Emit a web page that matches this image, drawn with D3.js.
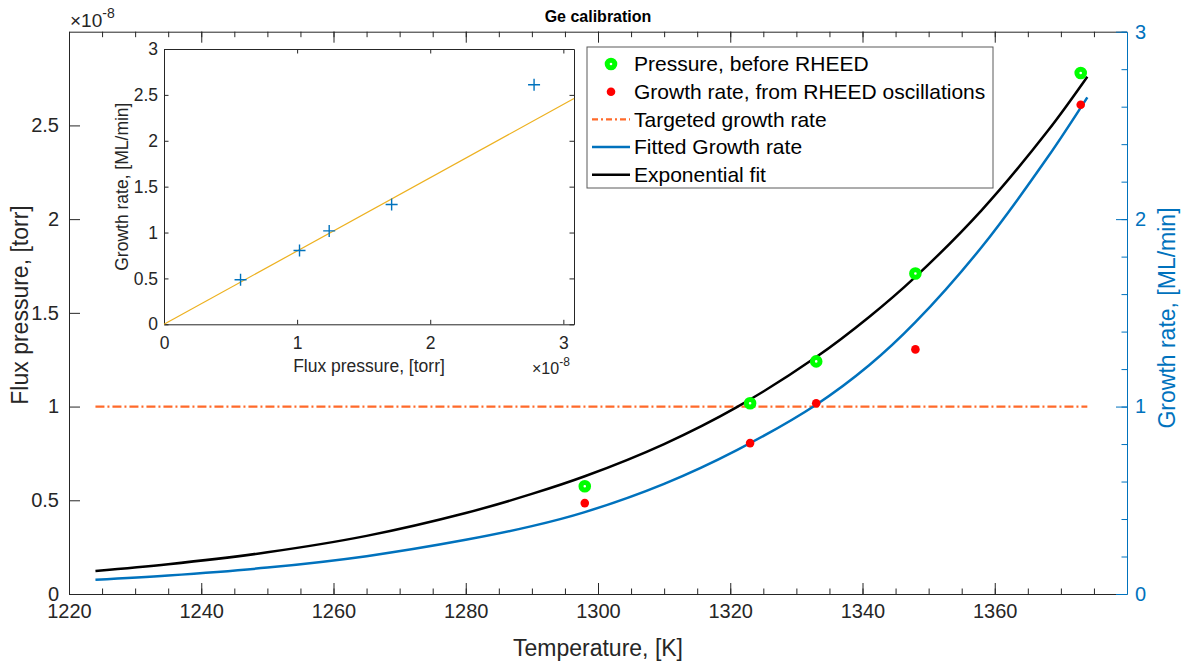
<!DOCTYPE html>
<html>
<head>
<meta charset="utf-8">
<script src="https://cdn.jsdelivr.net/npm/d3@7"></script>
<style>
  html, body { margin: 0; padding: 0; background: #fff; }
  svg { display: block; font-family: "Liberation Sans", Arial, Helvetica, sans-serif; }
</style>
</head>
<body>
<svg width="1181" height="664"></svg>
<script>
// measured points
var temps = [1298, 1323, 1333, 1348, 1373];
var pressure = [0.575, 1.018, 1.241, 1.71, 2.78];   // x 1e-8 torr
var growth = [0.485, 0.805, 1.018, 1.305, 2.61];     // ML/min

// fitted curves
var fitT = [1224, 1235, 1250, 1265, 1280, 1290, 1298, 1310, 1321, 1333, 1341, 1348, 1358, 1368, 1374];
var expFit = [0.123, 0.159, 0.2225, 0.31, 0.432, 0.534, 0.628, 0.80, 0.997, 1.264, 1.478, 1.692, 2.047, 2.47, 2.76];
var rateFit = [0.076, 0.099, 0.141, 0.202, 0.289, 0.362, 0.437, 0.588, 0.768, 1.01, 1.22, 1.45, 1.85, 2.33, 2.65];

var targetT = [1224, 1374];
var targetRate = [1, 1];

// inset linear fit
var insetFitX = [0, 3.08];
var insetFitY = [0, 2.46];

var xTicks = [1220, 1240, 1260, 1280, 1300, 1320, 1340, 1360];
var leftTicks = [0, 0.5, 1, 1.5, 2, 2.5];
var rightTicks = [0, 1, 2, 3];
var insetXTicks = [0, 1, 2, 3];
var insetYTicks = [0, 0.5, 1, 1.5, 2, 2.5, 3];

var legendLabels = ["Pressure, before RHEED", "Growth rate, from RHEED oscillations",
    "Targeted growth rate", "Fitted Growth rate", "Exponential fit"];

var axisColor = "#262626";
var blue = "#0072BD";
var orange = "#FF6A2A";
var green = "#00FF00";
var red = "#FF0000";
var yellow = "#EDB120";

var svg = d3.select("svg");
var L = 69, R = 1127, T = 31.7, B = 594;

var x = d3.scaleLinear().domain([1220, 1380]).range([L, R]);
var yL = d3.scaleLinear().domain([0, 3]).range([B, T]);
var yR = d3.scaleLinear().domain([0, 3]).range([B, T]);

function styleAxis(g, color, size) {
    g.selectAll(".domain").attr("stroke", color);
    g.selectAll(".tick line").attr("stroke", color);
    g.selectAll(".tick text").attr("fill", color).attr("font-size", size)
        .attr("font-family", "Liberation Sans, Arial, sans-serif");
}

function minorRange(a, b, step) {
    return d3.range(Math.round((b - a) / step) + 1).map(function (i) { return +(a + i * step).toFixed(4); });
}

// main axes
var main = svg.append("g");
main.append("rect").attr("x", L).attr("y", T).attr("width", R - L).attr("height", B - T).attr("fill", "#fff");

var gx = main.append("g").attr("transform", "translate(0," + B + ")")
    .call(d3.axisBottom(x).tickValues(xTicks).tickSize(-11).tickSizeOuter(0).tickPadding(10)
        .tickFormat(d3.format("d")));
styleAxis(gx, axisColor, 20);
main.append("g").attr("transform", "translate(0," + B + ")")
    .call(d3.axisBottom(x).tickValues(minorRange(1225, 1375, 5)).tickSize(-5.5).tickSizeOuter(0).tickFormat(""))
    .call(function (g) { g.select(".domain").remove(); styleAxis(g, axisColor, 0); });

var gt = main.append("g").attr("transform", "translate(0," + T + ")")
    .call(d3.axisTop(x).tickValues(xTicks).tickSize(-11).tickSizeOuter(0).tickFormat(""));
styleAxis(gt, axisColor, 0);
main.append("g").attr("transform", "translate(0," + T + ")")
    .call(d3.axisTop(x).tickValues(minorRange(1225, 1375, 5)).tickSize(-5.5).tickSizeOuter(0).tickFormat(""))
    .call(function (g) { g.select(".domain").remove(); styleAxis(g, axisColor, 0); });

var gl = main.append("g").attr("transform", "translate(" + L + ",0)")
    .call(d3.axisLeft(yL).tickValues(leftTicks).tickSize(-11).tickSizeOuter(0).tickPadding(10)
        .tickFormat(function (d) { return String(d); }));
styleAxis(gl, axisColor, 20);

var gr = main.append("g").attr("transform", "translate(" + R + ",0)")
    .call(d3.axisRight(yR).tickValues(rightTicks).tickSize(-11).tickSizeOuter(0).tickPadding(8)
        .tickFormat(function (d) { return String(d); }));
styleAxis(gr, blue, 20);
main.append("g").attr("transform", "translate(" + R + ",0)")
    .call(d3.axisRight(yR).tickValues(minorRange(0, 3, 0.2)).tickSize(-5.5).tickSizeOuter(0).tickFormat(""))
    .call(function (g) { g.select(".domain").remove(); styleAxis(g, blue, 0); });

// exponent label
var expo = main.append("text").attr("x", 70).attr("y", 27).attr("font-size", 19).attr("fill", axisColor);
expo.append("tspan").text("\u00d710");
expo.append("tspan").attr("dy", -9).attr("font-size", 14).text("-8");

// titles
main.append("text").attr("x", (L + R) / 2).attr("y", 22).attr("text-anchor", "middle")
    .attr("font-size", 16).attr("font-weight", "bold").attr("fill", "#000").text("Ge calibration");
main.append("text").attr("x", (L + R) / 2).attr("y", 656).attr("text-anchor", "middle")
    .attr("font-size", 23).attr("fill", axisColor).text("Temperature, [K]");
main.append("text").attr("transform", "translate(28,305) rotate(-90)").attr("text-anchor", "middle")
    .attr("font-size", 23).attr("fill", axisColor).text("Flux pressure, [torr]");
main.append("text").attr("transform", "translate(1175,318) rotate(-90)").attr("text-anchor", "middle")
    .attr("font-size", 23).attr("fill", blue).text("Growth rate, [ML/min]");

// lines
var targetLine = d3.line().x(function (d, i) { return x(targetT[i]); }).y(function (d) { return yR(d); });
main.append("path").datum(targetRate).attr("d", targetLine).attr("fill", "none")
    .attr("stroke", orange).attr("stroke-width", 2.3).attr("stroke-dasharray", "9,3,2,3");

var expLine = d3.line().curve(d3.curveCatmullRom.alpha(0.5))
    .x(function (d, i) { return x(fitT[i]); }).y(function (d) { return yL(d); });
main.append("path").datum(expFit).attr("d", expLine).attr("fill", "none")
    .attr("stroke", "#000").attr("stroke-width", 2.5);

var rateLine = d3.line().curve(d3.curveCatmullRom.alpha(0.5))
    .x(function (d, i) { return x(fitT[i]); }).y(function (d) { return yR(d); });
main.append("path").datum(rateFit).attr("d", rateLine).attr("fill", "none")
    .attr("stroke", blue).attr("stroke-width", 2.5);

// markers
main.selectAll(".press").data(pressure).enter().append("circle")
    .attr("cx", function (d, i) { return x(temps[i]); }).attr("cy", function (d) { return yL(d); })
    .attr("r", 3.8).attr("fill", "#fff").attr("stroke", green).attr("stroke-width", 5);
main.selectAll(".rate").data(growth).enter().append("circle")
    .attr("cx", function (d, i) { return x(temps[i]); }).attr("cy", function (d) { return yR(d); })
    .attr("r", 4.3).attr("fill", red);

// inset
var iL = 164, iR = 574, iT = 49, iB = 324.3;
var ix = d3.scaleLinear().domain([0, 3.08]).range([iL, iR]);
var iy = d3.scaleLinear().domain([0, 3]).range([iB, iT]);
var inset = svg.append("g");
inset.append("rect").attr("x", iL).attr("y", iT).attr("width", iR - iL).attr("height", iB - iT)
    .attr("fill", "#fff");

var ixb = inset.append("g").attr("transform", "translate(0," + iB + ")")
    .call(d3.axisBottom(ix).tickValues(insetXTicks).tickSize(-4.5).tickSizeOuter(0).tickPadding(12)
        .tickFormat(function (d) { return String(d); }));
styleAxis(ixb, axisColor, 17.5);
var ixt = inset.append("g").attr("transform", "translate(0," + iT + ")")
    .call(d3.axisTop(ix).tickValues(insetXTicks).tickSize(-4.5).tickSizeOuter(0).tickFormat(""));
styleAxis(ixt, axisColor, 0);
var iyl = inset.append("g").attr("transform", "translate(" + iL + ",0)")
    .call(d3.axisLeft(iy).tickValues(insetYTicks).tickSize(-4.5).tickSizeOuter(0).tickPadding(6)
        .tickFormat(function (d) { return String(d); }));
styleAxis(iyl, axisColor, 17.5);
var iyr = inset.append("g").attr("transform", "translate(" + iR + ",0)")
    .call(d3.axisRight(iy).tickValues(insetYTicks).tickSize(-4.5).tickSizeOuter(0).tickFormat(""));
styleAxis(iyr, axisColor, 0);

var fitLine = d3.line().x(function (d, i) { return ix(insetFitX[i]); }).y(function (d) { return iy(d); });
inset.append("path").datum(insetFitY).attr("d", fitLine).attr("fill", "none")
    .attr("stroke", yellow).attr("stroke-width", 1.2);

inset.selectAll(".plus").data(growth).enter().append("path")
    .attr("transform", function (d, i) { return "translate(" + ix(pressure[i]) + "," + iy(d) + ")"; })
    .attr("d", "M-6,0H6M0,-6V6").attr("stroke", blue).attr("stroke-width", 1.4);

inset.append("text").attr("x", (iL + iR) / 2).attr("y", 372).attr("text-anchor", "middle")
    .attr("font-size", 17.5).attr("fill", axisColor).text("Flux pressure, [torr]");
inset.append("text").attr("transform", "translate(128," + (iT + iB) / 2 + ") rotate(-90)")
    .attr("text-anchor", "middle").attr("font-size", 17.5).attr("fill", axisColor).text("Growth rate, [ML/min]");
var iexpo = inset.append("text").attr("x", 532).attr("y", 374).attr("font-size", 16).attr("fill", axisColor);
iexpo.append("tspan").text("\u00d710");
iexpo.append("tspan").attr("dy", -8).attr("font-size", 12).text("-8");

// legend
var lg = svg.append("g");
lg.append("rect").attr("x", 587).attr("y", 47).attr("width", 406).attr("height", 141)
    .attr("fill", "#fff").attr("stroke", "#5a5a5a").attr("stroke-width", 1);
var rows = lg.selectAll(".row").data(legendLabels).enter().append("g")
    .attr("transform", function (d, i) { return "translate(0," + (64 + i * 27.7) + ")"; });
rows.append("text").attr("x", 634).attr("y", 0).attr("dy", "0.35em")
    .attr("font-size", 21).attr("fill", "#000").text(function (d) { return d; });
rows.filter(function (d, i) { return i === 0; }).append("circle")
    .attr("cx", 611).attr("r", 3.8).attr("fill", "#fff").attr("stroke", green).attr("stroke-width", 5);
rows.filter(function (d, i) { return i === 1; }).append("circle")
    .attr("cx", 611).attr("r", 4.3).attr("fill", red);
rows.filter(function (d, i) { return i >= 2; }).append("line")
    .attr("x1", 592).attr("x2", 630)
    .attr("stroke", function (d, i) { return [orange, blue, "#000"][i]; })
    .attr("stroke-width", function (d, i) { return i === 0 ? 2.3 : 2.5; })
    .attr("stroke-dasharray", function (d, i) { return i === 0 ? "6,3,2,3" : null; });
</script>
</body>
</html>
